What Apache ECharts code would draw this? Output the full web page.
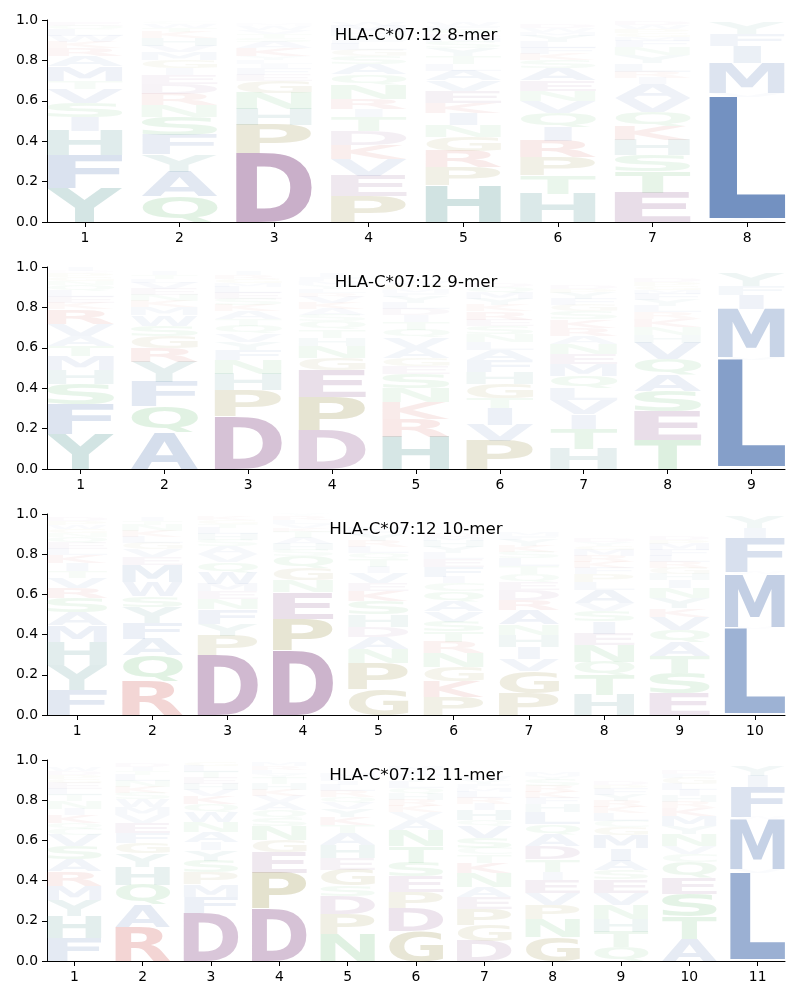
<!DOCTYPE html>
<html><head><meta charset="utf-8">
<script src="https://cdn.jsdelivr.net/npm/echarts@6/dist/echarts.min.js"></script>
<style>html,body{margin:0;padding:0;background:#fff}#c{width:800px;height:1000px}</style>
</head><body><div id="c"></div><script>
// ---------------- data ----------------
const panelTitles = ["HLA-C*07:12 8-mer", "HLA-C*07:12 9-mer", "HLA-C*07:12 10-mer", "HLA-C*07:12 11-mer"];
const yTickValues = [0, 0.2, 0.4, 0.6, 0.8, 1.0];

// letters per position, bottom -> top, and their stack heights
const mer8Letters = ["YFHISVTMARKWLQE", "QAYFSNRDEIGMVHKTWC", "DPHNGEFILYKASTVWM", "PEVKDTIRNQASGLFYHMW",
  "HPRGNIKEVALTYSMDQFW", "HTPRIQVNEASKFLYMWD", "ETSHKQVAIRLYNFMGPWD", "ALVMIFY"];
const mer8Heights = [
  [.17,.16,.12,.07,.07,.07,.04,.07,.05,.04,.03,.03,.03,.02,.02],
  [.125,.125,.085,.095,.09,.06,.055,.05,.045,.03,.04,.04,.03,.04,.03,.02,.02,.01],
  [.34,.14,.08,.08,.06,.03,.03,.02,.02,.02,.04,.03,.02,.02,.02,.02,.01],
  [.13,.10,.08,.07,.07,.07,.04,.05,.07,.05,.05,.04,.03,.03,.02,.02,.02,.03,.02],
  [.18,.09,.08,.07,.06,.06,.05,.06,.05,.05,.03,.04,.04,.03,.02,.02,.02,.02,.02],
  [.14,.09,.09,.08,.07,.07,.06,.05,.05,.06,.04,.03,.03,.03,.03,.02,.02,.02],
  [.145,.105,.08,.075,.07,.07,.07,.07,.03,.03,.04,.04,.04,.03,.02,.02,.02,.02,.02],
  [.02,.60,.02,.145,.085,.06,.055]
];

const mer9Letters = ["YFSHMTAVRKELQNGPDI", "AQFYRGSWMKNEVLTI", "DPHNFYVQTAKSELMGRI", "DPEGNHTQSAKVRLYMFI",
  "HRKNSEGAVQTIDLYFMPW", "PVITGHFALNSERKYMQD", "HTIVLQMENARKSGFYPD", "TESAQVHNKRLYFMGPD", "ALVMIFY"];
const mer9Heights = [
  [.175,.145,.10,.07,.07,.05,.05,.06,.07,.03,.03,.03,.03,.02,.02,.02,.01,.02],
  [.18,.13,.12,.10,.07,.06,.05,.05,.04,.03,.03,.03,.03,.02,.02,.02],
  [.26,.13,.08,.07,.05,.04,.04,.04,.03,.04,.03,.03,.03,.03,.02,.02,.02,.02],
  [.19,.165,.135,.06,.06,.04,.04,.04,.03,.03,.03,.03,.02,.02,.02,.02,.02,.02],
  [.16,.09,.08,.07,.07,.04,.04,.05,.05,.04,.04,.03,.03,.03,.03,.02,.02,.02,.02],
  [.14,.08,.08,.05,.07,.06,.06,.05,.04,.04,.04,.03,.04,.03,.03,.03,.03,.02],
  [.10,.10,.07,.07,.06,.06,.06,.05,.05,.04,.04,.04,.04,.03,.03,.03,.02,.02],
  [.145,.14,.10,.08,.08,.08,.04,.04,.04,.03,.03,.03,.03,.02,.02,.02,.02],
  [.015,.525,.015,.235,.07,.045,.065]
];

const mer10Letters = ["FYHMASRVTIKLEQNGWPD", "RQAFYSWMEVGLKNTI", "DPYFNEMWQVASHLTGK", "DPENGQSHATKVLRY",
  "GPNADHSKEVITQLRYFM", "PKGNRTSVAQCIFELYHMD", "PGVIHNARDEQTLSKYFM", "HTQNEISVALPFKRMGYD",
  "ESTAQVKYNIHGRLFMPD", "ALVMWFIY"];
const mer10Heights = [
  [.125,.125,.115,.08,.065,.07,.05,.05,.035,.04,.04,.03,.03,.03,.02,.02,.02,.02,.02],
  [.165,.13,.085,.08,.075,.055,.07,.085,.04,.04,.03,.03,.03,.03,.02,.02],
  [.295,.10,.06,.07,.05,.04,.035,.06,.05,.04,.04,.03,.03,.03,.02,.02,.02],
  [.32,.16,.13,.06,.06,.06,.03,.03,.03,.03,.02,.02,.02,.02,.01],
  [.13,.13,.07,.06,.05,.06,.065,.05,.04,.05,.03,.04,.03,.03,.03,.03,.02,.02],
  [.09,.08,.07,.07,.055,.05,.05,.05,.05,.05,.04,.03,.05,.04,.03,.03,.03,.02,.02],
  [.11,.11,.06,.06,.06,.05,.07,.05,.05,.04,.04,.04,.04,.03,.03,.03,.02,.02],
  [.10,.095,.07,.085,.055,.06,.05,.04,.065,.04,.04,.03,.03,.03,.03,.02,.02,.02],
  [.11,.10,.085,.07,.06,.065,.04,.05,.05,.04,.03,.03,.03,.03,.03,.03,.02,.02],
  [.01,.42,.01,.26,.01,.17,.05,.055]
];

const mer11Letters = ["FHYMRASVCQKINTLEGPDW", "RAQHYGFEVMWSKNLTID", "DFMPSYIANWQKVHETLG", "DPEGNSQAVKHTYLRM",
  "NPDSGEHATKYVQRLIFM", "GDPESTNAVKRHQLYFIM", "DGPEANKTCSVQHIRLMFYW", "GNPVEITDAQLHFKRSYM",
  "QTHNVESAIMGCLKRYFPD", "ATSEQCVNYMKRHILGFD", "ALVMWFIY"];
const mer11Heights = [
  [.115,.11,.08,.07,.07,.06,.065,.055,.03,.03,.04,.03,.04,.03,.03,.03,.02,.02,.02,.02],
  [.17,.11,.10,.09,.065,.05,.05,.05,.04,.04,.04,.03,.03,.03,.03,.02,.02,.02],
  [.24,.08,.06,.06,.06,.05,.04,.05,.05,.05,.04,.04,.03,.03,.03,.03,.03,.02],
  [.26,.18,.10,.06,.07,.04,.04,.04,.03,.03,.03,.03,.02,.02,.02,.02],
  [.135,.10,.09,.05,.08,.055,.065,.06,.04,.04,.04,.03,.03,.03,.03,.02,.02,.02],
  [.15,.115,.08,.075,.07,.08,.08,.05,.04,.03,.03,.03,.03,.03,.02,.02,.02,.02],
  [.10,.08,.08,.06,.05,.07,.05,.04,.03,.05,.06,.03,.05,.03,.03,.03,.02,.02,.02,.02],
  [.12,.09,.07,.06,.065,.04,.06,.065,.06,.05,.06,.04,.03,.03,.03,.03,.02,.02],
  [.07,.075,.065,.07,.06,.065,.045,.05,.06,.065,.04,.03,.04,.03,.03,.03,.03,.02,.02],
  [.11,.11,.115,.08,.075,.04,.04,.06,.04,.05,.04,.03,.03,.03,.03,.03,.02,.02],
  [.01,.43,.02,.245,.01,.15,.055,.05]
];

const panelLetters = [mer8Letters, mer9Letters, mer10Letters, mer11Letters];
const panelHeights = [mer8Heights, mer9Heights, mer10Heights, mer11Heights];

// ---------------- styling ----------------
const groupRGB = {
  blue: [76, 114, 176], teal: [58, 135, 131], green: [77, 175, 90],
  red: [200, 64, 58], purple: [133, 74, 133], olive: [140, 130, 45]
};
const letterGroup = {};
"AVLIMFW".split("").forEach(c => letterGroup[c] = "blue");
"HY".split("").forEach(c => letterGroup[c] = "teal");
"STNQC".split("").forEach(c => letterGroup[c] = "green");
"KR".split("").forEach(c => letterGroup[c] = "red");
"DE".split("").forEach(c => letterGroup[c] = "purple");
"PG".split("").forEach(c => letterGroup[c] = "olive");

const GLYPH_FONT = 'bold 100px "DejaVu Sans"';
const mctx = document.createElement("canvas").getContext("2d");
mctx.font = GLYPH_FONT; mctx.textBaseline = "middle"; mctx.textAlign = "left";
const metricCache = {};
function metrics(ch) {
  if (!metricCache[ch]) {
    const m = mctx.measureText(ch);
    metricCache[ch] = {
      l: m.actualBoundingBoxLeft, w: m.actualBoundingBoxLeft + m.actualBoundingBoxRight,
      a: m.actualBoundingBoxAscent, h: m.actualBoundingBoxAscent + m.actualBoundingBoxDescent
    };
  }
  return metricCache[ch];
}
function colorFor(ch, h) {
  const c = groupRGB[letterGroup[ch] || "blue"];
  const a = Math.min(1, 1.3 * h);
  return `rgba(${c[0]},${c[1]},${c[2]},${a.toFixed(3)})`;
}
const HALF_W = 0.4;

function makeRender(letters, heights) {
  return function (params, api) {
    const i = params.dataIndex;
    const pos = api.value(0);
    const seq = letters[i], hs = heights[i];
    const children = [];
    let base = 0;
    const mE = metrics("E");
    for (let k = 0; k < seq.length; k++) {
      const ch = seq[k], h = hs[k];
      const p0 = api.coord([pos - HALF_W, base]);
      const p1 = api.coord([pos + HALF_W, base + h]);
      base += h;
      const boxW = p1[0] - p0[0], boxH = p0[1] - p1[1];
      if (boxH < 0.1) continue;
      const m = metrics(ch);
      const sx = Math.min(boxW / m.w, boxW / mE.w);
      const sy = boxH / m.h;
      const left = p0[0] + (boxW - m.w * sx) / 2;
      children.push({
        type: "text", silent: true,
        x: left + sx * m.l, y: p1[1] + sy * m.a, scaleX: sx, scaleY: sy,
        style: { text: ch, x: 0, y: 0, font: GLYPH_FONT, fill: colorFor(ch, h), align: "left", verticalAlign: "middle" }
      });
    }
    return { type: "group", children: children };
  };
}

// ---------------- layout ----------------
const gridTops = [20, 267, 514, 760];
const gridHeights = [202, 202, 201, 201];
const TICK_FONT = 'DejaVu Sans';

const grids = [], xAxes = [], yAxes = [], series = [], graphics = [];
for (let p = 0; p < 4; p++) {
  const n = panelLetters[p].length;
  const positions = [];
  for (let j = 1; j <= n; j++) positions.push(j);
  grids.push({ left: 47, right: 15, top: gridTops[p], height: gridHeights[p], containLabel: false });
  xAxes.push({
    type: "value", gridIndex: p, min: 1 - 0.4, max: n + 0.4,
    axisLine: { show: true, onZero: false, lineStyle: { color: "#000", width: 1 } },
    axisTick: { show: true, customValues: positions, length: 5, lineStyle: { color: "#000" } },
    axisLabel: { customValues: positions, color: "#000", fontFamily: TICK_FONT, fontSize: 13.9, margin: 9 },
    splitLine: { show: false }
  });
  yAxes.push({
    type: "value", gridIndex: p, min: 0, max: 1, interval: 0.2,
    axisLine: { show: true, lineStyle: { color: "#000", width: 1 } },
    axisTick: { show: true, length: 5, lineStyle: { color: "#000" } },
    axisLabel: { color: "#000", fontFamily: TICK_FONT, fontSize: 13.9, margin: 9, formatter: v => v.toFixed(1) },
    splitLine: { show: false }
  });
  series.push({
    type: "custom", xAxisIndex: p, yAxisIndex: p,
    renderItem: makeRender(panelLetters[p], panelHeights[p]),
    data: positions.map(v => [v, 1]),
    clip: false, animation: false, silent: true
  });
  graphics.push({
    type: "text", x: 416, y: gridTops[p] + 16, silent: true,
    style: { text: panelTitles[p], font: '16.7px "DejaVu Sans"', fill: "#000", align: "center", verticalAlign: "middle" }
  });
}

const chart = echarts.init(document.getElementById("c"), null, { renderer: "canvas" });
chart.setOption({
  animation: false,
  backgroundColor: "#fff",
  grid: grids, xAxis: xAxes, yAxis: yAxes, series: series,
  graphic: graphics
});
</script></body></html>
